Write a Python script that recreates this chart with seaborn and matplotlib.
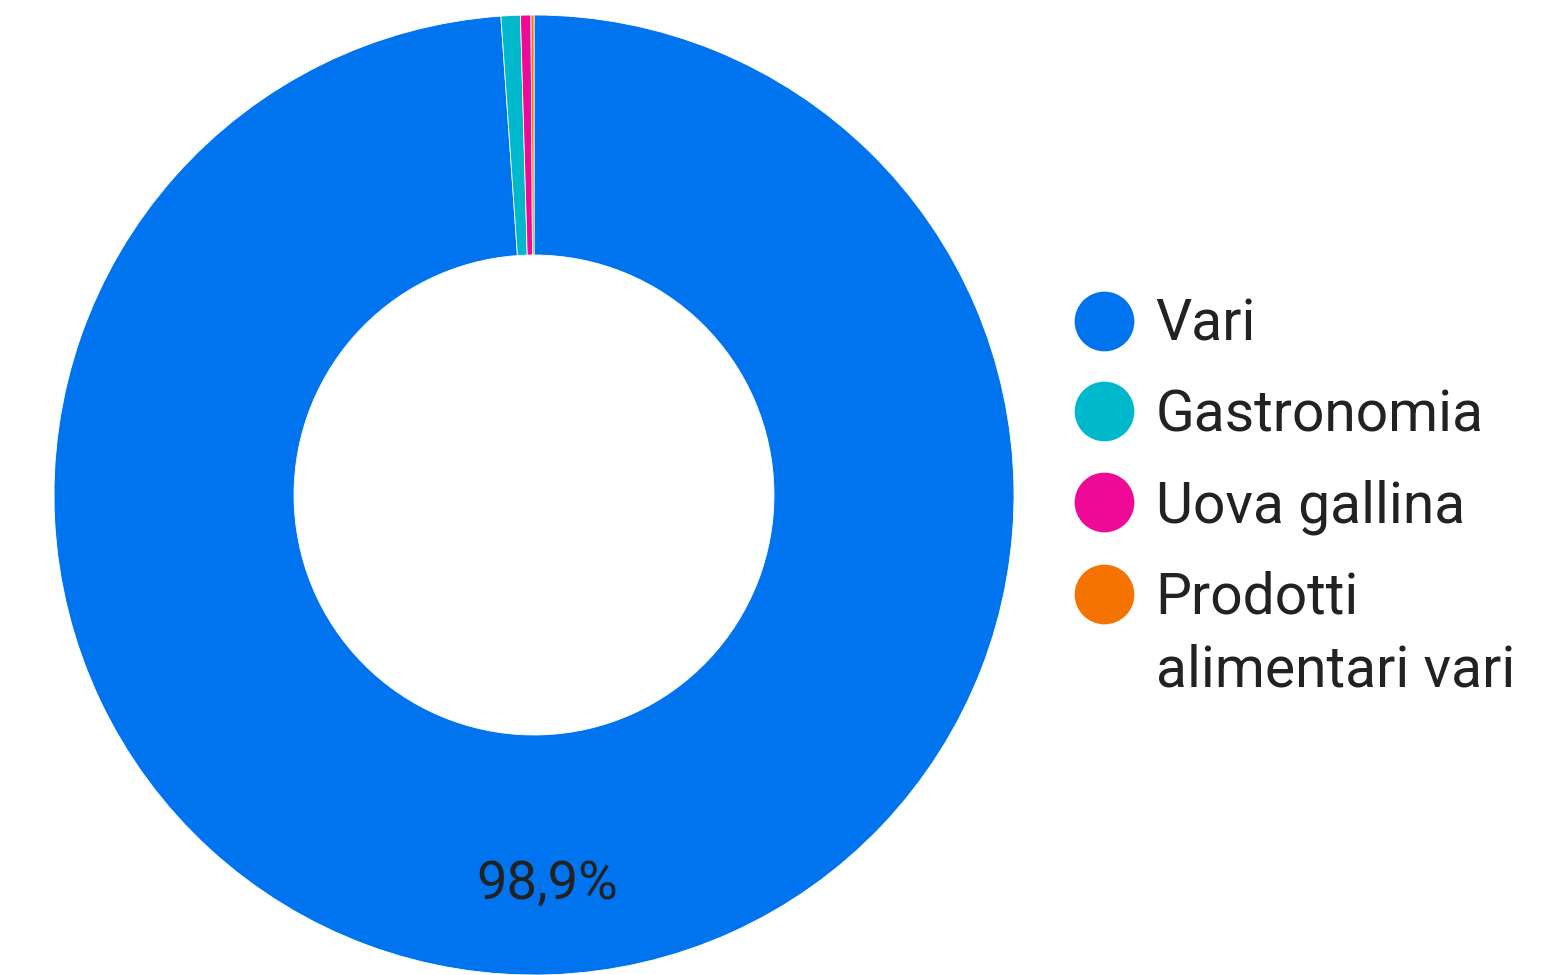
import matplotlib.pyplot as plt
import seaborn as sns
from matplotlib.lines import Line2D

# dati
categorie = ["Vari", "Gastronomia", "Uova gallina", "Prodotti alimentari vari"]
valori = [98.9, 0.65, 0.35, 0.1]
colori = ["#0073EE", "#00B8CC", "#EE0A97", "#F57300"]

sns.set_theme(style="white")
plt.rcParams["font.family"] = ["Roboto", "DejaVu Sans"]

fig = plt.figure(figsize=(15.62, 9.75), dpi=100)
ax = fig.add_axes([54 / 1562, 0.0, 960 / 1562, 960 / 975])

wedges, _, autotexts = ax.pie(
    valori, colors=sns.color_palette(colori), startangle=90, counterclock=False,
    radius=1, wedgeprops=dict(width=0.5, edgecolor="white", linewidth=0.6),
    autopct=lambda p: f"{p:.1f}%".replace(".", ",") if p > 5 else "",
    pctdistance=0.81, textprops=dict(fontsize=39, color="#222222"))
ax.set_xlim(-1, 1)
ax.set_ylim(-1, 1)
ax.set_aspect("equal")
ax.axis("off")

# legenda: l'ultima voce va a capo, il pallino resta sulla prima riga
etichette = categorie[:3] + ["Prodotti"]
handles = [Line2D([0], [0], marker="o", linestyle="", markersize=43,
                  markerfacecolor=c, markeredgewidth=0) for c in colori]
leg = fig.legend(handles, etichette, loc="upper left", bbox_to_anchor=(1036 / 1562, 1 - 269 / 975),
                 frameon=False, fontsize=41, labelcolor="#222222", handletextpad=0.2,
                 labelspacing=0.63, handlelength=1.4, borderpad=0)

fig.canvas.draw()
ultimo = leg.get_texts()[-1].get_window_extent()
fig.text(ultimo.x0 / fig.bbox.width, (ultimo.y0 + ultimo.height / 2 - 73) / fig.bbox.height,
         categorie[-1].split(" ", 1)[1], fontsize=41, color="#222222", va="center", ha="left")

fig.savefig("out.png", dpi=100)
